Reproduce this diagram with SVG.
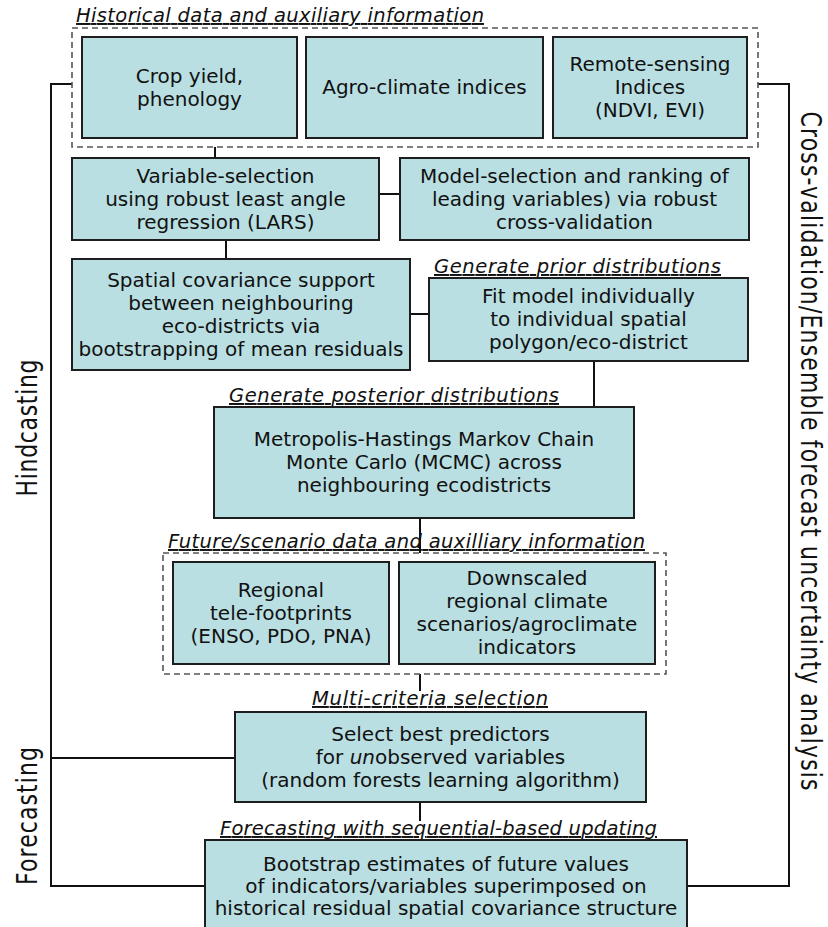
<svg xmlns="http://www.w3.org/2000/svg" width="828" height="927" viewBox="0 0 828 927">
<style>
.box{fill:#b9dfe2;stroke:#1e1e1e;stroke-width:2}
.dash{fill:none;stroke:#555;stroke-width:1.6;stroke-dasharray:6 4}
.con{fill:none;stroke:#111;stroke-width:2}
text{font-family:"Comic Sans MS","DejaVu Sans",sans-serif;fill:#111}
.t{font-size:20px;text-anchor:middle}
.ttl{font-size:19.5px;font-style:italic;text-decoration:underline}
.side{font-size:22px;text-anchor:middle}
</style>
<rect width="828" height="927" fill="#fff"/>
<g id="connectors">
<path class="con" d="M72,84 H51 V886 H205"/>
<path class="con" d="M51,758 H235"/>
<path class="con" d="M758,84 H789 V886 H687"/>
<path class="con" d="M215,147 V158"/>
<path class="con" d="M379,194 H400"/>
<path class="con" d="M226,240 V259"/>
<path class="con" d="M410,314 H429"/>
<path class="con" d="M594,361 V407"/>
<path class="con" d="M420,518 V553"/>
<path class="con" d="M420,674 V691"/>
<path class="con" d="M420,802 V821"/>
</g>
<g id="historical">
<rect class="dash" x="72" y="28" width="686" height="119"/>
<text class="ttl" x="76" y="22" textLength="408">Historical data and auxiliary information</text>
</g>
<g id="crop">
<rect class="box" x="82" y="37" width="215" height="101"/>
<text class="t" x="189.5" y="82.5">Crop yield,<tspan x="189.5" dy="23">phenology</tspan></text>
</g>
<g id="agro">
<rect class="box" x="306" y="37" width="237" height="101"/>
<text class="t" x="424.5" y="94">Agro-climate indices</text>
</g>
<g id="remote">
<rect class="box" x="553" y="37" width="194" height="101"/>
<text class="t" x="650" y="71">Remote-sensing<tspan x="650" dy="23">Indices</tspan><tspan x="650" dy="23">(NDVI, EVI)</tspan></text>
</g>
<g id="varsel">
<rect class="box" x="72" y="158" width="307" height="82"/>
<text class="t" x="225.5" y="182.5">Variable-selection<tspan x="225.5" dy="23">using robust least angle</tspan><tspan x="225.5" dy="23">regression (LARS)</tspan></text>
</g>
<g id="modelsel">
<rect class="box" x="400" y="158" width="349" height="82"/>
<text class="t" x="574.5" y="182.5">Model-selection and ranking of<tspan x="574.5" dy="23">leading variables) via robust</tspan><tspan x="574.5" dy="23">cross-validation</tspan></text>
</g>
<g id="spatial">
<rect class="box" x="72" y="259" width="338" height="111"/>
<text class="t" x="241" y="286.5">Spatial covariance support<tspan x="241" dy="23">between neighbouring</tspan><tspan x="241" dy="23">eco-districts via</tspan><tspan x="241" dy="23">bootstrapping of mean residuals</tspan></text>
</g>
<g id="fit">
<text class="ttl" x="434" y="273" textLength="287">Generate prior distributions</text>
<rect class="box" x="429" y="278" width="319" height="83"/>
<text class="t" x="588.5" y="303">Fit model individually<tspan x="588.5" dy="23">to individual spatial</tspan><tspan x="588.5" dy="23">polygon/eco-district</tspan></text>
</g>
<g id="mcmc">
<text class="ttl" x="229" y="402" textLength="330">Generate posterior distributions</text>
<rect class="box" x="214" y="407" width="420" height="111"/>
<text class="t" x="424" y="446">Metropolis-Hastings Markov Chain<tspan x="424" dy="23">Monte Carlo (MCMC) across</tspan><tspan x="424" dy="23">neighbouring ecodistricts</tspan></text>
</g>
<g id="future">
<rect class="dash" x="163" y="553" width="503" height="121"/>
<text class="ttl" x="168" y="548" textLength="477">Future/scenario data and auxilliary information</text>
</g>
<g id="regional">
<rect class="box" x="173" y="562" width="216" height="102"/>
<text class="t" x="281" y="596.5">Regional<tspan x="281" dy="23">tele-footprints</tspan><tspan x="281" dy="23">(ENSO, PDO, PNA)</tspan></text>
</g>
<g id="downscaled">
<rect class="box" x="399" y="562" width="256" height="102"/>
<text class="t" x="527" y="585">Downscaled<tspan x="527" dy="23">regional climate</tspan><tspan x="527" dy="23">scenarios/agroclimate</tspan><tspan x="527" dy="23">indicators</tspan></text>
</g>
<g id="select">
<text class="ttl" x="312" y="705" textLength="236">Multi-criteria selection</text>
<rect class="box" x="235" y="712" width="411" height="90"/>
<text class="t" x="440.5" y="741">Select best predictors<tspan x="440.5" dy="23">for <tspan font-style="italic">un</tspan>observed variables</tspan><tspan x="440.5" dy="23">(random forests learning algorithm)</tspan></text>
</g>
<g id="bootstrap">
<text class="ttl" x="220" y="835" textLength="437">Forecasting with sequential-based updating</text>
<rect class="box" x="205" y="840" width="482" height="95"/>
<text class="t" x="446" y="871">Bootstrap estimates of future values<tspan x="446" dy="22">of indicators/variables superimposed on</tspan><tspan x="446" dy="22">historical residual spatial covariance structure</tspan></text>
</g>
<g id="labels">
<text class="side" transform="translate(37,428) rotate(-90) scale(1,1.3)" textLength="137">Hindcasting</text>
<text class="side" transform="translate(37,816) rotate(-90) scale(1,1.3)" textLength="138">Forecasting</text>
<text class="side" transform="translate(801,451) rotate(90) scale(1,1.3)" textLength="679">Cross-validation/Ensemble forecast uncertainty analysis</text>
</g>
</svg>
